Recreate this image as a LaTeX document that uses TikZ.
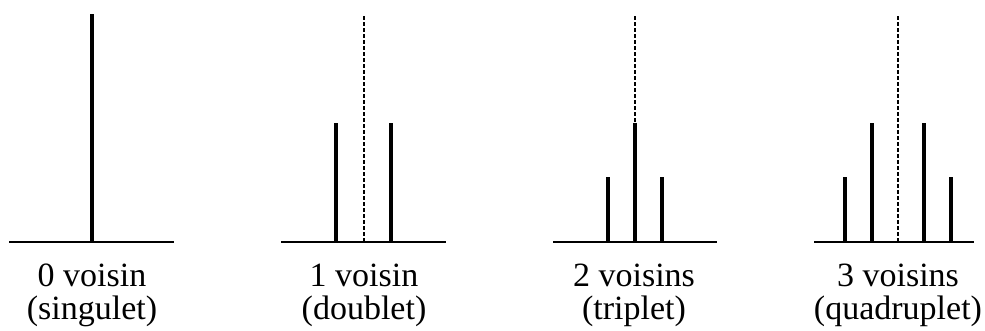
\documentclass[tikz,border=0pt]{standalone}
\usepackage{fontspec}
\setmainfont{Liberation Serif}
\usetikzlibrary{positioning}

\begin{document}
\begin{tikzpicture}[
  x=1pt,y=1pt,
  peakline/.style={line width=4pt},
  axisline/.style={line width=2pt},
  centreline/.style={line width=1.4pt,dash pattern=on 4pt off 2pt},
  caption/.style={anchor=base,inner sep=0pt,font=\fontsize{34}{33}\selectfont}
]
  \useasboundingbox (0,0) rectangle (985,331);
  % singulet
  \draw[axisline] (9,89) -- (174,89);
  \draw[peakline] (92,89) -- (92,317);
  \node[caption] (n0) at (92,44) {0 voisin};
  \node[caption] (m0) at (92,11) {(singulet)};
  % doublet
  \draw[centreline] (364,89) -- (364,316);
  \draw[axisline] (281,89) -- (446,89);
  \draw[peakline] (336,89) -- (336,208);
  \draw[peakline] (391,89) -- (391,208);
  \node[caption] (n1) at (364,44) {1 voisin};
  \node[caption] (m1) at (364,11) {(doublet)};
  % triplet
  \draw[centreline] (635,89) -- (635,316);
  \draw[axisline] (553,89) -- (717,89);
  \draw[peakline] (608,89) -- (608,154);
  \draw[peakline] (635,89) -- (635,208);
  \draw[peakline] (662,89) -- (662,154);
  \node[caption] (n2) at (634,44) {2 voisins};
  \node[caption] (m2) at (634,11) {(triplet)};
  % quadruplet
  \draw[centreline] (898,89) -- (898,316);
  \draw[axisline] (814,89) -- (974,89);
  \draw[peakline] (845,89) -- (845,154);
  \draw[peakline] (872,89) -- (872,208);
  \draw[peakline] (924,89) -- (924,208);
  \draw[peakline] (951,89) -- (951,154);
  \node[caption] (n3) at (898,44) {3 voisins};
  \node[caption] (m3) at (898,11) {(quadruplet)};
\end{tikzpicture}
\end{document}
